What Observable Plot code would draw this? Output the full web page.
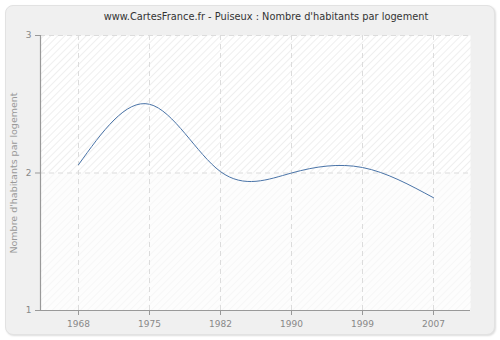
<!DOCTYPE html>
<html>
<head>
<meta charset="utf-8">
<script src="https://cdn.jsdelivr.net/npm/d3@7"></script>
<script src="https://cdn.jsdelivr.net/npm/@observablehq/plot@0.6"></script>
<style>
  html, body { margin: 0; padding: 0; background: #fff; }
  #wrap { position: relative; width: 500px; height: 340px; overflow: hidden; }
  #box { position: absolute; left: 5px; top: 5px; width: 488px; height: 328px;
         background: #f0f0f0; border: 1px solid #e2e2e2; border-radius: 8px;
         box-shadow: 1px 1px 2px #ddd; }
  #title { position: absolute; left: 0; top: 11px; width: 532px; text-align: center;
           font-family: "DejaVu Sans", Verdana, sans-serif; font-size: 9.8px; color: #333; }
  #chart { position: absolute; left: 0; top: 0; }
</style>
</head>
<body>
<div id="wrap">
  <div id="box"></div>
  <div id="title">www.CartesFrance.fr - Puiseux : Nombre d'habitants par logement</div>
  <div id="chart"></div>
</div>
<script>
const years = ["1968", "1975", "1982", "1990", "1999", "2007"];
const values = [2.06, 2.50, 2.01, 2.00, 2.04, 1.82];
const yTicks = [1, 2, 3];
const yLabel = "Nombre d'habitants par logement";

const data = years.map((y, i) => ({year: y, value: values[i]}));

const chart = Plot.plot({
  width: 500,
  height: 340,
  marginLeft: 40,
  marginRight: 30,
  marginTop: 35,
  marginBottom: 30,
  style: {background: "transparent", fontFamily: "DejaVu Sans, Verdana, sans-serif", fontSize: "9px", color: "#888"},
  x: {type: "point", domain: years, padding: 0.5, label: null},
  y: {domain: [1, 3], ticks: yTicks, label: null},
  marks: [
    Plot.frame({fill: "url(#hatchA)"}),
    Plot.rect([{y1: 1, y2: 2}], {y1: "y1", y2: "y2", fill: "#fbfbfb", fillOpacity: 0.6}),
    Plot.gridX(years, {stroke: "#dcdcdc", strokeOpacity: 1, strokeDasharray: "5,4"}),
    Plot.gridY([2, 3], {stroke: "#dcdcdc", strokeOpacity: 1, strokeDasharray: "5,4"}),
    Plot.axisX({tickSize: 5, tickPadding: 5, stroke: "#999", color: "#888", fontSize: 9}),
    Plot.axisY({ticks: yTicks, tickSize: 5, tickPadding: 4, stroke: "#999", color: "#888", fontSize: 9, tickFormat: d3.format("d"),
      label: null}),
    Plot.ruleY([1], {stroke: "#999", strokeWidth: 1.2}),
    Plot.frame({anchor: "left", stroke: "#999", strokeWidth: 1.2}),
    Plot.text([yLabel], {frameAnchor: "left", dx: -27, rotate: -90, textAnchor: "middle", fill: "#999", fontSize: 9.5}),
    Plot.line(data, {x: "year", y: "value", curve: "natural", stroke: "#4a74a8", strokeWidth: 1})
  ]
});

const defs = d3.create("svg:defs");
const pat = defs.append("pattern").attr("id", "hatchA").attr("patternUnits", "userSpaceOnUse")
  .attr("width", 5).attr("height", 5).attr("patternTransform", "rotate(45)");
pat.append("rect").attr("width", 5).attr("height", 5).attr("fill", "#ffffff");
pat.append("line").attr("x1", 0).attr("y1", 0).attr("x2", 0).attr("y2", 5)
  .attr("stroke", "#eaeaea").attr("stroke-width", 1.5);
chart.insertBefore(defs.node(), chart.firstChild);

document.getElementById("chart").appendChild(chart);
</script>
</body>
</html>
